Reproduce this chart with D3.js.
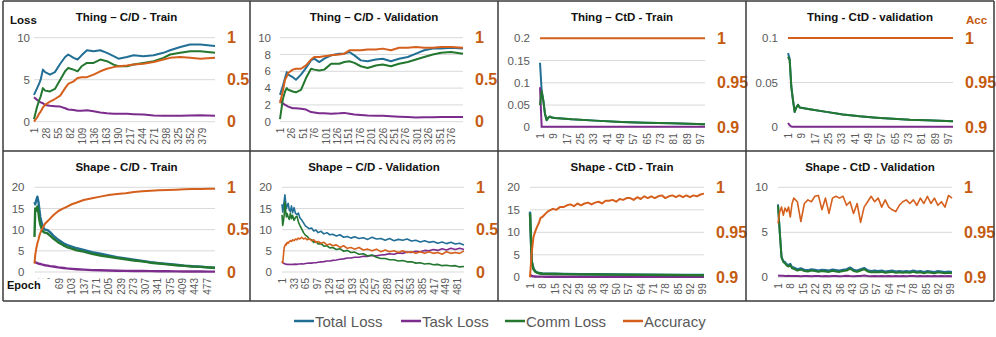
<!DOCTYPE html>
<html>
<head>
<meta charset="utf-8">
<script src="https://cdn.jsdelivr.net/npm/d3@7"></script>
<style>
  body { margin: 0; background: #fff; }
  svg text { font-family: "Liberation Sans", Arial, sans-serif; }
</style>
</head>
<body>
<div id="chart"></div>
<script>
/* DATA */
const seriesNames = ["Total Loss", "Task Loss", "Comm Loss", "Accuracy"];

// tick labels
const ticksLoss10 = [0, 5, 10];
const ticksLoss10by2 = [0, 2, 4, 6, 8, 10];
const ticksLoss02 = [0, 0.05, 0.1, 0.15, 0.2];
const ticksLoss01 = [0, 0.05, 0.1];
const ticksLoss20 = [0, 5, 10, 15, 20];
const ticksAccFull = [0, 0.5, 1];
const ticksAccHigh = [0.9, 0.95, 1];
const xTicksThingCdTrain = [1, 28, 55, 82, 109, 136, 163, 190, 217, 244, 271, 298, 325, 352, 379];
const xTicksThingCdVal = [1, 26, 51, 76, 101, 126, 151, 176, 201, 226, 251, 276, 301, 326, 351, 376];
const xTicksThingCtd = [1, 9, 17, 25, 33, 41, 49, 57, 65, 73, 81, 89, 97];
const xTicksShapeCdTrain = [1, 35, 69, 103, 137, 171, 205, 239, 273, 307, 341, 375, 409, 443, 477];
const xTicksShapeCdVal = [1, 33, 65, 97, 129, 161, 193, 225, 257, 289, 321, 353, 385, 417, 449, 481];
const xTicksShapeCtd = [1, 8, 15, 22, 29, 36, 43, 50, 57, 64, 71, 78, 85, 92, 99];

// Thing – C/D - Train
const thingCdTrainEpoch = [1, 8, 13, 16, 21, 26, 37, 48, 60, 71, 78, 90, 99, 108, 120, 135, 150, 165, 180, 191, 210, 225, 247, 270, 292, 307, 330, 352, 375, 408];
const thingCdTrainTotal = [3.2, 4.0, 4.6, 5.0, 6.2, 5.9, 5.6, 5.9, 6.9, 7.7, 8.0, 7.6, 7.4, 7.9, 8.5, 8.4, 8.5, 8.2, 7.8, 7.5, 7.7, 7.9, 7.8, 7.9, 8.2, 8.5, 8.9, 9.2, 9.2, 9.0];
const thingCdTrainTask = [2.9, 2.6, 2.4, 2.3, 2.2, 2.0, 1.9, 1.85, 1.8, 1.6, 1.45, 1.4, 1.3, 1.3, 1.35, 1.25, 1.1, 1.0, 0.95, 0.95, 0.95, 0.9, 0.85, 0.75, 0.7, 0.7, 0.72, 0.75, 0.77, 0.72];
const thingCdTrainComm = [0.3, 1.8, 2.6, 3.0, 4.0, 3.7, 3.6, 3.9, 5.0, 6.0, 6.4, 6.2, 6.0, 6.6, 7.0, 7.0, 7.4, 7.2, 6.8, 6.6, 6.6, 6.8, 7.0, 7.2, 7.6, 8.0, 8.2, 8.4, 8.4, 8.2];
const thingCdTrainAcc = [0.0, 0.05, 0.1, 0.12, 0.17, 0.2, 0.24, 0.27, 0.31, 0.4, 0.45, 0.48, 0.52, 0.53, 0.53, 0.56, 0.6, 0.63, 0.65, 0.66, 0.67, 0.68, 0.69, 0.71, 0.74, 0.76, 0.77, 0.76, 0.75, 0.76];

// Thing – C/D - Validation
const thingCdValEpoch = [1, 7, 12, 16, 19, 29, 36, 47, 58, 69, 76, 87, 98, 113, 131, 142, 153, 164, 178, 193, 211, 226, 244, 262, 281, 299, 317, 336, 354, 376, 402];
const thingCdValTotal = [3.2, 4.2, 5.2, 5.9, 5.6, 5.3, 5.0, 5.6, 6.4, 7.3, 7.5, 7.1, 7.5, 7.9, 8.1, 8.1, 8.3, 7.9, 7.3, 7.2, 7.4, 7.5, 7.2, 7.5, 7.7, 8.1, 8.5, 8.7, 8.7, 8.8, 8.7];
const thingCdValTask = [2.6, 2.2, 2.0, 1.9, 1.8, 1.6, 1.6, 1.55, 1.45, 1.15, 1.1, 1.0, 1.0, 0.95, 1.0, 1.05, 0.95, 0.85, 0.8, 0.75, 0.72, 0.7, 0.65, 0.6, 0.55, 0.5, 0.52, 0.52, 0.55, 0.55, 0.55];
const thingCdValComm = [0.3, 2.6, 3.6, 4.0, 3.8, 3.6, 3.5, 3.8, 5.2, 6.3, 6.2, 6.1, 6.2, 6.9, 6.9, 7.1, 7.2, 7.0, 6.6, 6.4, 6.7, 6.8, 6.6, 6.9, 7.1, 7.4, 7.7, 8.0, 8.2, 8.3, 8.1];
const thingCdValAcc = [0.22, 0.36, 0.5, 0.54, 0.58, 0.62, 0.63, 0.63, 0.67, 0.74, 0.77, 0.77, 0.78, 0.79, 0.8, 0.81, 0.85, 0.85, 0.85, 0.86, 0.86, 0.87, 0.85, 0.88, 0.88, 0.89, 0.88, 0.88, 0.89, 0.89, 0.88];

// Thing – CtD - Train
const thingCtdTrainEpoch = [1, 2, 3, 4, 5, 6, 7, 8, 10, 20, 34, 50, 64, 80, 100];
const thingCtdTrainTotal = [0.145, 0.082, 0.06, 0.03, 0.016, 0.022, 0.024, 0.022, 0.021, 0.018, 0.015, 0.012, 0.010, 0.009, 0.007];
const thingCtdTrainTask = [0.09, 0.001, 0.001, 0.001, 0.001, 0.001, 0.001, 0.001, 0.001, 0.001, 0.001, 0.001, 0.001, 0.001, 0.001];
const thingCtdTrainComm = [0.05, 0.082, 0.06, 0.03, 0.016, 0.022, 0.024, 0.022, 0.021, 0.018, 0.015, 0.012, 0.010, 0.009, 0.007];
const thingCtdTrainAccEpoch = [1, 100];
const thingCtdTrainAcc = [1, 1];

// Thing - CtD - validation
const thingCtdValEpoch = [1, 2, 3, 4, 5, 6, 7, 8, 14, 24, 34, 44, 54, 64, 74, 84, 100];
const thingCtdValTotal = [0.083, 0.077, 0.045, 0.03, 0.017, 0.022, 0.025, 0.022, 0.020, 0.017, 0.014, 0.012, 0.0105, 0.0094, 0.0082, 0.0075, 0.0064];
const thingCtdValTask = [0.0045, 0.002, 0.0005, 0.0004, 0.0004, 0.0004, 0.0004, 0.0004, 0.0004, 0.0004, 0.0004, 0.0004, 0.0004, 0.0004, 0.0004, 0.0004, 0.0004];
const thingCtdValComm = [0.079, 0.075, 0.045, 0.03, 0.017, 0.022, 0.025, 0.022, 0.020, 0.017, 0.014, 0.012, 0.0105, 0.0094, 0.0082, 0.0075, 0.0064];
const thingCtdValAccEpoch = [1, 100];
const thingCtdValAcc = [1, 1];

// Shape - C/D - Train
const shapeCdTrainEpoch = [1, 3, 6, 9, 12, 14, 17, 21, 26, 30, 37, 44, 53, 67, 81, 90, 104, 118, 137, 160, 183, 206, 229, 253, 276, 299, 322, 345, 369, 392, 415, 438, 461, 484, 500];
const shapeCdTrainTotal = [16.5, 16.0, 17.0, 17.8, 16.5, 15.0, 13.0, 11.5, 10.4, 10.0, 9.9, 9.4, 8.6, 7.6, 6.8, 6.4, 6.0, 5.6, 5.2, 4.7, 4.3, 3.9, 3.5, 3.2, 2.9, 2.6, 2.3, 2.1, 1.9, 1.7, 1.5, 1.35, 1.25, 1.1, 1.0];
const shapeCdTrainTask = [2.5, 2.3, 2.2, 2.1, 2.0, 1.95, 1.9, 1.8, 1.7, 1.6, 1.5, 1.4, 1.3, 1.1, 0.95, 0.85, 0.75, 0.65, 0.55, 0.45, 0.4, 0.35, 0.3, 0.27, 0.25, 0.22, 0.2, 0.18, 0.16, 0.15, 0.13, 0.12, 0.11, 0.1, 0.1];
const shapeCdTrainComm = [8.3, 15.0, 14.5, 15.5, 14.0, 12.5, 11.2, 10.2, 9.4, 9.3, 9.1, 8.6, 7.9, 7.0, 6.3, 5.9, 5.5, 5.1, 4.8, 4.3, 3.9, 3.6, 3.3, 3.0, 2.7, 2.5, 2.2, 2.0, 1.8, 1.6, 1.45, 1.3, 1.2, 1.05, 0.95];
const shapeCdTrainAcc = [0.1, 0.2, 0.28, 0.34, 0.38, 0.42, 0.46, 0.5, 0.54, 0.57, 0.6, 0.63, 0.67, 0.72, 0.75, 0.77, 0.8, 0.82, 0.85, 0.87, 0.89, 0.91, 0.92, 0.93, 0.945, 0.953, 0.96, 0.965, 0.968, 0.972, 0.976, 0.98, 0.98, 0.984, 0.984];

// Shape – C/D - Validation
const shapeCdValEpoch = [1, 3, 5, 7, 9, 11, 13, 15, 18, 21, 24, 27, 30, 34, 38, 42, 46, 50, 55, 60,
  65, 70, 76, 82, 88, 94, 100, 108, 116, 124, 132, 140, 150, 160, 170, 180, 190, 200, 212, 224,
  236, 248, 260, 272, 284, 296, 308, 320, 332, 344, 356, 368, 380, 392, 404, 416, 428, 440, 452, 464, 476, 488, 500];
const shapeCdValTotal = [16.0, 14.2, 15.5, 16.8, 18.2, 16.5, 15.0, 15.6, 16.2, 14.6, 14.3, 15.6, 14.0, 15.2, 13.8, 13.6, 13.9, 12.8, 12.3, 11.6,
  10.9, 10.6, 10.2, 10.4, 9.7, 9.9, 9.3, 9.6, 9.0, 9.3, 8.8, 8.9, 8.5, 8.8, 8.2, 8.4, 8.0, 8.3, 7.9, 8.1,
  7.7, 8.2, 7.8, 7.9, 7.5, 7.9, 7.4, 7.7, 7.5, 7.8, 7.3, 7.5, 7.1, 7.4, 7.0, 7.2, 6.8, 7.1, 6.7, 7.0, 6.6, 6.8, 6.4];
const shapeCdValTask = [2.4, 2.2, 2.1, 2.0, 1.9, 1.9, 1.8, 1.8, 1.8, 1.75, 1.8, 1.75, 1.8, 1.8, 1.85, 1.8, 1.9, 1.9, 1.95, 1.9,
  2.0, 2.05, 2.1, 2.1, 2.2, 2.2, 2.3, 2.4, 2.45, 2.6, 2.6, 2.75, 2.85, 3.0, 3.1, 3.3, 3.3, 3.5, 3.5, 3.7,
  3.7, 3.9, 3.8, 4.0, 4.1, 4.3, 4.2, 4.5, 4.4, 4.7, 4.6, 4.9, 4.8, 5.1, 5.0, 5.3, 5.1, 5.5, 5.2, 5.6, 5.3, 5.6, 5.3];
const shapeCdValComm = [13.5, 11.0, 12.0, 13.5, 16.5, 14.5, 13.0, 13.8, 13.0, 12.4, 13.9, 12.6, 13.4, 12.2, 12.9, 13.2, 11.8, 11.0, 10.2, 9.3,
  8.7, 8.4, 7.8, 7.6, 7.0, 7.2, 6.6, 6.7, 6.1, 6.2, 5.7, 5.8, 5.3, 5.5, 4.9, 5.1, 4.6, 4.7, 4.2, 4.3,
  3.8, 4.0, 3.5, 3.2, 3.2, 2.9, 2.9, 2.6, 2.7, 2.4, 2.4, 2.1, 2.2, 1.9, 2.0, 1.7, 1.8, 1.5, 1.6, 1.4, 1.5, 1.2, 1.3];
const shapeCdValAcc = [0.13, 0.11, 0.2, 0.29, 0.31, 0.33, 0.32, 0.35, 0.34, 0.36, 0.37, 0.36, 0.38, 0.37, 0.39, 0.38, 0.4, 0.39, 0.41, 0.39,
  0.4, 0.38, 0.39, 0.37, 0.38, 0.35, 0.36, 0.34, 0.35, 0.32, 0.33, 0.31, 0.32, 0.29, 0.31, 0.28, 0.29, 0.27, 0.29, 0.26,
  0.27, 0.25, 0.27, 0.24, 0.26, 0.24, 0.25, 0.23, 0.25, 0.23, 0.24, 0.22, 0.24, 0.22, 0.24, 0.22, 0.23, 0.21, 0.24, 0.22, 0.23, 0.22, 0.25];

// Shape - CtD - Train
const shapeCtdTrainEpoch = [1, 2, 3, 4, 5, 6, 8, 10, 15, 20, 30, 40, 50, 60, 70, 80, 90, 100];
const shapeCtdTrainTotal = [14.6, 3.5, 1.9, 1.3, 1.1, 0.95, 0.85, 0.8, 0.78, 0.75, 0.7, 0.67, 0.63, 0.6, 0.56, 0.53, 0.5, 0.5];
const shapeCtdTrainTask = [0.6, 0.3, 0.2, 0.18, 0.16, 0.15, 0.14, 0.13, 0.12, 0.12, 0.11, 0.1, 0.1, 0.1, 0.09, 0.09, 0.09, 0.09];
const shapeCtdTrainComm = [14.2, 3.4, 1.8, 1.25, 1.05, 0.9, 0.8, 0.75, 0.73, 0.7, 0.66, 0.63, 0.6, 0.57, 0.53, 0.5, 0.48, 0.47];
const shapeCtdTrainAccEpoch = [1, 2, 3, 4, 5, 6, 7, 8, 9, 10, 11, 12, 14, 16, 18, 20, 22, 24, 26, 28, 30, 32, 34, 36, 38, 40,
  42, 44, 46, 48, 50, 52, 54, 56, 58, 60, 62, 64, 66, 68, 70, 72, 74, 76, 78, 80, 82, 84, 86, 88, 90, 92, 94, 96, 98, 100];
const shapeCtdTrainAcc = [0.900, 0.928, 0.945, 0.951, 0.956, 0.960, 0.966, 0.967, 0.969, 0.971, 0.973,
  0.974, 0.976, 0.975, 0.978, 0.978, 0.980, 0.981, 0.979, 0.982, 0.980,
  0.982, 0.983, 0.981, 0.983, 0.984, 0.982, 0.985, 0.985, 0.986, 0.984,
  0.987, 0.986, 0.988, 0.988, 0.986, 0.989, 0.987, 0.990, 0.988, 0.990,
  0.988, 0.990, 0.991, 0.988, 0.990, 0.991, 0.989, 0.991, 0.989, 0.991,
  0.989, 0.991, 0.990, 0.992, 0.993];

// Shape - CtD - Validation
const shapeCtdValEpoch = [1, 2, 3, 4, 5, 6, 7, 8, 9, 10, 12, 14, 16, 18, 20, 22, 24, 26, 28, 30, 32, 34, 36, 38, 40,
  42, 44, 46, 48, 50, 52, 54, 56, 58, 60, 62, 64, 66, 68, 70, 72, 74, 76, 78, 80, 82, 84, 86, 88, 90, 92, 94, 96, 98, 100];
const shapeCtdValTotal = [8.1, 5.1, 2.3, 1.8, 1.7, 1.45, 1.35, 1.5, 1.15, 1.1,
  0.9, 1.0, 0.85, 0.8, 0.9, 0.85, 0.75, 0.85, 0.8, 0.75, 0.87, 0.8, 0.75, 0.85, 0.9,
  1.1, 0.85, 0.75, 0.9, 1.05, 0.8, 0.7, 0.75, 0.7, 0.75, 0.65, 0.7, 0.75, 0.65, 0.7,
  0.65, 0.7, 0.65, 0.75, 0.65, 0.7, 0.6, 0.7, 0.65, 0.6, 0.7, 0.65, 0.6, 0.65, 0.6];
const shapeCtdValTask = [0.2, 0.18, 0.17, 0.16, 0.15, 0.15, 0.16, 0.14, 0.15, 0.14,
  0.15, 0.13, 0.14, 0.15, 0.13, 0.14, 0.15, 0.13, 0.14, 0.13, 0.15, 0.14, 0.13, 0.14, 0.16,
  0.14, 0.13, 0.14, 0.15, 0.2, 0.14, 0.13, 0.14, 0.13, 0.14, 0.13, 0.15, 0.13, 0.14, 0.13,
  0.14, 0.13, 0.14, 0.15, 0.13, 0.14, 0.13, 0.14, 0.13, 0.14, 0.13, 0.14, 0.13, 0.14, 0.13];
const shapeCtdValComm = [8.0, 5.0, 2.2, 1.7, 1.55, 1.3, 1.2, 1.35, 1.0, 0.95,
  0.75, 0.85, 0.7, 0.65, 0.75, 0.7, 0.6, 0.7, 0.65, 0.6, 0.72, 0.65, 0.6, 0.7, 0.75,
  0.95, 0.7, 0.6, 0.75, 0.9, 0.65, 0.55, 0.6, 0.55, 0.6, 0.5, 0.55, 0.6, 0.5, 0.55,
  0.5, 0.55, 0.5, 0.6, 0.5, 0.55, 0.45, 0.55, 0.5, 0.45, 0.55, 0.5, 0.45, 0.5, 0.45];
const shapeCtdValAcc = [0.960, 0.973, 0.978, 0.969, 0.977, 0.973, 0.978, 0.967, 0.982, 0.988,
  0.984, 0.962, 0.982, 0.986, 0.984, 0.990, 0.991, 0.975, 0.988, 0.971, 0.988, 0.990, 0.988, 0.990, 0.980,
  0.984, 0.971, 0.982, 0.961, 0.978, 0.984, 0.990, 0.984, 0.988, 0.978, 0.986, 0.978, 0.975, 0.973, 0.980,
  0.984, 0.986, 0.982, 0.986, 0.980, 0.988, 0.982, 0.990, 0.982, 0.988, 0.980, 0.984, 0.978, 0.991, 0.988];

/* LAYOUT */
const W = 996, H = 337;
const colors = { total: "#226f96", task: "#7b2c8c", comm: "#23772f", acc: "#d5601d" };
const accLabelColor = "#c55a11";
const tickColor = "#595959";

const panels = [
  { title: "Thing – C/D - Train", cx: 126.5, ty: 20.5, left: 34, right: 215, top: 37.7, bottom: 121.7, pad: 4,
    lossTicks: ticksLoss10, accTicks: ticksAccFull, xTicks: xTicksThingCdTrain,
    epochs: thingCdTrainEpoch, total: thingCdTrainTotal, task: thingCdTrainTask, comm: thingCdTrainComm,
    accEpochs: thingCdTrainEpoch, acc: thingCdTrainAcc },
  { title: "Thing – C/D - Validation", cx: 374, ty: 20.5, left: 280, right: 463, top: 37.7, bottom: 121.7, pad: 9,
    lossTicks: ticksLoss10by2, accTicks: ticksAccFull, xTicks: xTicksThingCdVal,
    epochs: thingCdValEpoch, total: thingCdValTotal, task: thingCdValTask, comm: thingCdValComm,
    accEpochs: thingCdValEpoch, acc: thingCdValAcc },
  { title: "Thing – CtD - Train", cx: 622, ty: 20.5, left: 540, right: 705, top: 38.3, bottom: 127.3, pad: 10,
    lossTicks: ticksLoss02, accTicks: ticksAccHigh, xTicks: xTicksThingCtd,
    epochs: thingCtdTrainEpoch, total: thingCtdTrainTotal, task: thingCtdTrainTask, comm: thingCtdTrainComm,
    accEpochs: thingCtdTrainAccEpoch, acc: thingCtdTrainAcc },
  { title: "Thing - CtD - validation", cx: 870, ty: 20.5, left: 788, right: 953, top: 38, bottom: 127, pad: 10,
    lossTicks: ticksLoss01, accTicks: ticksAccHigh, xTicks: xTicksThingCtd,
    epochs: thingCtdValEpoch, total: thingCtdValTotal, task: thingCtdValTask, comm: thingCtdValComm,
    accEpochs: thingCtdValAccEpoch, acc: thingCtdValAcc },
  { title: "Shape - C/D - Train", cx: 126.5, ty: 170.5, left: 34.5, right: 215, top: 187.3, bottom: 272, pad: 10,
    lossTicks: ticksLoss20, accTicks: ticksAccFull, xTicks: xTicksShapeCdTrain,
    epochs: shapeCdTrainEpoch, total: shapeCdTrainTotal, task: shapeCdTrainTask, comm: shapeCdTrainComm,
    accEpochs: shapeCdTrainEpoch, acc: shapeCdTrainAcc, lossWidth: 2.4 },
  { title: "Shape – C/D - Validation", cx: 374, ty: 170.5, left: 282, right: 464, top: 187.3, bottom: 272, pad: 10,
    lossTicks: ticksLoss20, accTicks: ticksAccFull, xTicks: xTicksShapeCdVal,
    epochs: shapeCdValEpoch, total: shapeCdValTotal, task: shapeCdValTask, comm: shapeCdValComm,
    accEpochs: shapeCdValEpoch, acc: shapeCdValAcc, lossWidth: 1.6, accWidth: 1.6 },
  { title: "Shape - CtD - Train", cx: 622, ty: 170.5, left: 530, right: 704, top: 187.3, bottom: 277.3, pad: 10,
    lossTicks: ticksLoss20, accTicks: ticksAccHigh, xTicks: xTicksShapeCtd,
    epochs: shapeCtdTrainEpoch, total: shapeCtdTrainTotal, task: shapeCtdTrainTask, comm: shapeCtdTrainComm,
    accEpochs: shapeCtdTrainAccEpoch, acc: shapeCtdTrainAcc, lossWidth: 2.4 },
  { title: "Shape - CtD - Validation", cx: 870, ty: 170.5, left: 778, right: 952, top: 187.3, bottom: 277.3, pad: 10,
    lossTicks: ticksLoss10, accTicks: ticksAccHigh, xTicks: xTicksShapeCtd,
    epochs: shapeCtdValEpoch, total: shapeCtdValTotal, task: shapeCtdValTask, comm: shapeCtdValComm,
    accEpochs: shapeCtdValEpoch, acc: shapeCtdValAcc, lossWidth: 2, accWidth: 1.6 }
];

const svg = d3.select("#chart").append("svg")
  .attr("width", W)
  .attr("height", H);

svg.append("rect").attr("width", W).attr("height", H).attr("fill", "#fff");

const fmt = d3.format("~g");

panels.forEach(p => {
  const g = svg.append("g");
  const lastEpoch = d3.max([...p.epochs, ...p.accEpochs]);

  const x = d3.scaleLinear().domain([1, lastEpoch]).range([p.left, p.right]);
  const yL = d3.scaleLinear().domain(d3.extent(p.lossTicks)).range([p.bottom, p.top]);
  const yR = d3.scaleLinear().domain(d3.extent(p.accTicks)).range([p.bottom, p.top]);

  // gridlines
  g.selectAll(".grid")
    .data(p.lossTicks)
    .join("line")
    .attr("x1", p.left).attr("x2", p.right)
    .attr("y1", d => yL(d)).attr("y2", d => yL(d))
    .attr("stroke", "#d9d9d9")
    .attr("stroke-width", 1);

  // left axis
  const gl = g.append("g")
    .attr("transform", `translate(${p.left},0)`)
    .call(d3.axisLeft(yL).tickValues(p.lossTicks).tickSize(0).tickPadding(p.pad).tickFormat(fmt));
  gl.select(".domain").remove();
  gl.attr("font-family", null).attr("font-size", null);
  gl.selectAll("text").attr("fill", tickColor).style("font-size", "11.5px");

  // right axis
  const gr = g.append("g")
    .attr("transform", `translate(${p.right},0)`)
    .call(d3.axisRight(yR).tickValues(p.accTicks).tickSize(0).tickPadding(12).tickFormat(fmt));
  gr.select(".domain").remove();
  gr.attr("font-family", null).attr("font-size", null);
  gr.selectAll("text").attr("fill", accLabelColor).style("font-size", "16px").style("font-weight", "bold");

  // bottom axis, rotated labels
  const gb = g.append("g")
    .attr("transform", `translate(0,${p.bottom})`)
    .call(d3.axisBottom(x).tickValues(p.xTicks).tickSize(0).tickFormat(d3.format("d")));
  gb.select(".domain").remove();
  gb.attr("font-family", null).attr("font-size", null);
  gb.selectAll("text")
    .attr("transform", "rotate(-90)")
    .attr("x", -6).attr("y", 0).attr("dy", "0.35em")
    .style("text-anchor", "end")
    .attr("fill", tickColor)
    .style("font-size", "10px");

  // series: drawn in legend order so later ones sit on top
  const lw = p.lossWidth || 2;
  const aw = p.accWidth || 2;
  const lossLine = d3.line().x((d, i) => x(p.epochs[i])).y(d => yL(d));
  const accLine = d3.line().x((d, i) => x(p.accEpochs[i])).y(d => yR(d));

  [["total", p.total], ["task", p.task], ["comm", p.comm]].forEach(([key, vals]) => {
    g.append("path")
      .datum(vals)
      .attr("fill", "none")
      .attr("stroke", colors[key])
      .attr("stroke-width", lw)
      .attr("stroke-linejoin", "round")
      .attr("d", lossLine);
  });
  g.append("path")
    .datum(p.acc)
    .attr("fill", "none")
    .attr("stroke", colors.acc)
    .attr("stroke-width", aw)
    .attr("stroke-linejoin", "round")
    .attr("d", accLine);

  // title
  g.append("text")
    .attr("x", p.cx).attr("y", p.ty)
    .attr("text-anchor", "middle")
    .style("font-size", "11.5px").style("font-weight", "bold")
    .attr("fill", "#111")
    .text(p.title);
});

// axis name labels
svg.append("text").attr("x", 10).attr("y", 24)
  .style("font-size", "11.5px").style("font-weight", "bold").attr("fill", "#111")
  .text("Loss");
svg.append("text").attr("x", 966).attr("y", 24)
  .style("font-size", "11.5px").style("font-weight", "bold").attr("fill", accLabelColor)
  .text("Acc");
svg.append("rect").attr("x", 4).attr("y", 279).attr("width", 48).attr("height", 19).attr("fill", "#fff");
svg.append("text").attr("x", 7).attr("y", 289)
  .style("font-size", "11px").style("font-weight", "bold").attr("fill", "#111")
  .text("Epoch");

// panel borders
const colX = [3, 250, 498, 746, 994];
const rowY = [1, 151, 301];
colX.forEach(cx => {
  svg.append("line").attr("x1", cx).attr("x2", cx).attr("y1", rowY[0]).attr("y2", rowY[2])
    .attr("stroke", "#3a3a3a").attr("stroke-width", 1.5);
});
rowY.forEach(ry => {
  svg.append("line").attr("x1", colX[0]).attr("x2", colX[4]).attr("y1", ry).attr("y2", ry)
    .attr("stroke", "#3a3a3a").attr("stroke-width", 1.5);
});

// legend
const legendX = [294, 401, 505, 623];
const legendKeys = ["total", "task", "comm", "acc"];
const legend = svg.append("g").attr("transform", "translate(0,321)");
seriesNames.forEach((name, i) => {
  legend.append("line")
    .attr("x1", legendX[i]).attr("x2", legendX[i] + 20)
    .attr("y1", 0).attr("y2", 0)
    .attr("stroke", colors[legendKeys[i]]).attr("stroke-width", 2.5);
  legend.append("text")
    .attr("x", legendX[i] + 21).attr("y", 5.5)
    .style("font-size", "15px").attr("fill", tickColor)
    .text(name);
});
</script>
</body>
</html>
